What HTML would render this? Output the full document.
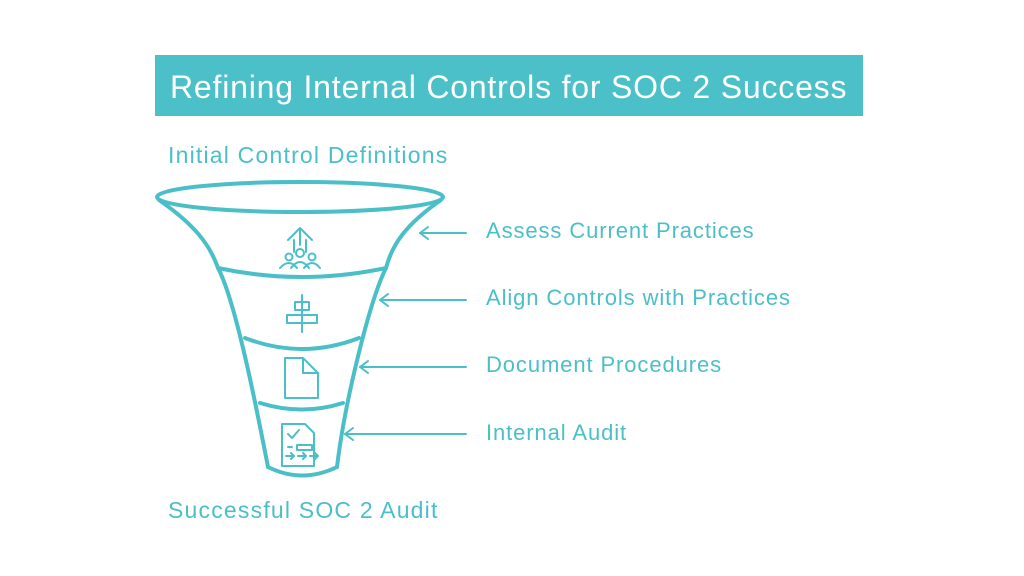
<!DOCTYPE html>
<html><head><style>
body{margin:0;width:1024px;height:576px;background:#fff;overflow:hidden;position:relative;font-family:"Liberation Sans",sans-serif}
.t{position:absolute;color:#4bbfc8;font-size:22px;letter-spacing:0.9px;white-space:nowrap;line-height:26px}
</style></head><body>
<div style="position:absolute;left:155px;top:55px;width:708px;height:61px;background:#4bc0c9"></div>
<div class="t" style="left:170px;top:70px;font-size:32px;line-height:34px;color:#fff;letter-spacing:0.8px">Refining Internal Controls for SOC 2 Success</div>
<div class="t" style="left:168px;top:142px;font-size:23px;letter-spacing:1.2px">Initial Control Definitions</div>
<div class="t" style="left:168px;top:497px;font-size:23px;letter-spacing:1.2px">Successful SOC 2 Audit</div>
<div class="t" style="left:486px;top:218px">Assess Current Practices</div>
<div class="t" style="left:486px;top:285px">Align Controls with Practices</div>
<div class="t" style="left:486px;top:352px">Document Procedures</div>
<div class="t" style="left:486px;top:420px">Internal Audit</div>
<svg width="1024" height="576" style="position:absolute;left:0;top:0" fill="none" stroke="#4bbfc8" stroke-linecap="round" stroke-linejoin="round">
<g stroke-width="4">
<ellipse cx="300" cy="197" rx="143" ry="15"/>
<path d="M159 200 C195 225 210 245 218 268 C235 300 255 400 268 467"/>
<path d="M441 200 C405 225 392 245 386 268 C370 300 345 400 337 467"/>
<path d="M218 268 Q302 286 386 268"/>
<path d="M245 338 Q302 360 359 338"/>
<path d="M260 403 Q302 416 343 403"/>
<path d="M268 467 Q302 484 337 467"/>
</g>
<g stroke-width="2">
<line x1="420" y1="233" x2="466" y2="233"/><path d="M428 227 L420 233 L428 239"/>
<line x1="380" y1="300" x2="466" y2="300"/><path d="M388 294 L380 300 L388 306"/>
<line x1="360" y1="367" x2="466" y2="367"/><path d="M368 361 L360 367 L368 373"/>
<line x1="345" y1="434" x2="466" y2="434"/><path d="M353 428 L345 434 L353 440"/>
<path d="M288 240 L300 228 L312 240 M294 240 V252 M306 240 V252 M300 228 V245"/>
<circle cx="300" cy="253" r="4"/><circle cx="289" cy="257" r="3.5"/><circle cx="312" cy="257" r="3.5"/>
<path d="M280 268 Q289 258 297 268 M291 268 Q300 256 309 268 M304 268 Q312 258 320 268"/>
<line x1="302" y1="295" x2="302" y2="332"/>
<rect x="295" y="302" width="14" height="8"/><rect x="287" y="315" width="30" height="8"/>
<path d="M285 358 H303 L318 373 V398 H285 Z M303 358 V373 H318"/>
<path d="M282 424 H305 L314 433 V466 H282 Z"/>
<path d="M288 434 L292 438 L299 430 M288 447 H292 M297 445 H312 V450 H297 Z M286 456 H294 M291 453 L294 456 L291 459 M298 456 H306 M303 453 L306 456 L303 459 M310 456 H318 M315 453 L318 456 L315 459"/>
</g>
</svg>
</body></html>
